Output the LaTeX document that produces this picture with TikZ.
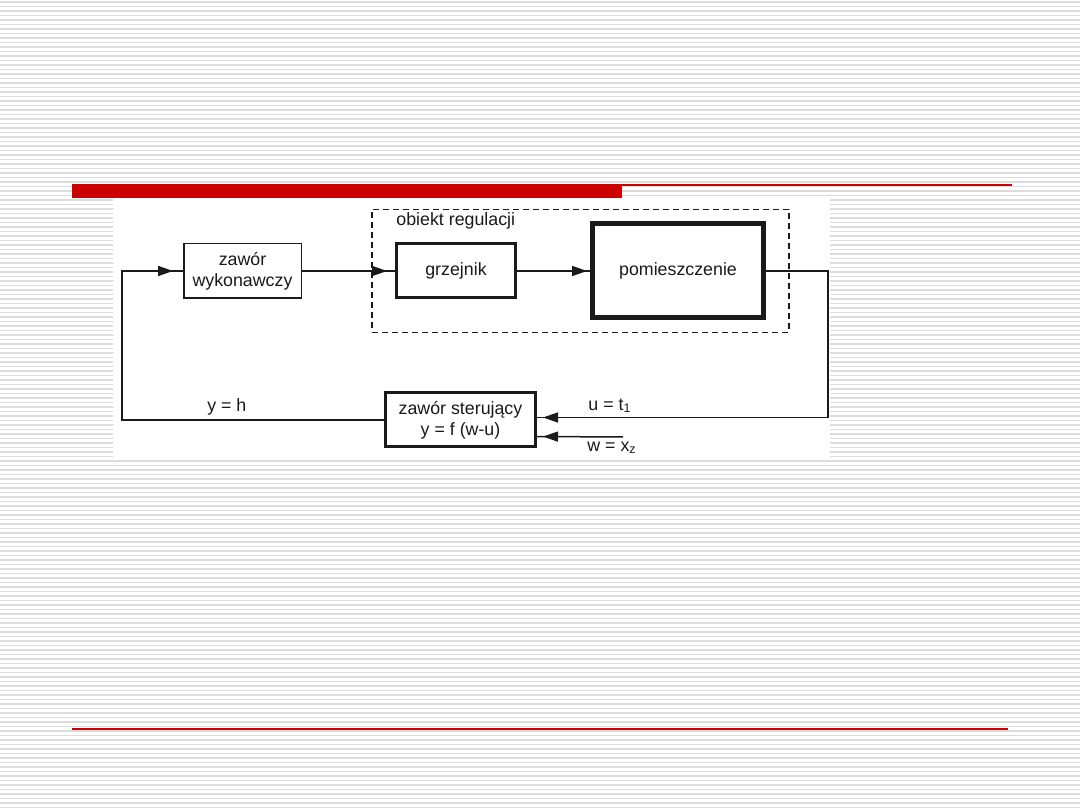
\documentclass[tikz,border=0pt]{standalone}
\usepackage{fontspec}
\setmainfont{Liberation Sans}
\usepackage{xcolor}
\definecolor{SlideRed}{HTML}{CC0000}
\definecolor{SlideStripe}{HTML}{DCDCDC}
\definecolor{PlotInk}{HTML}{1A1A1A}
\usetikzlibrary{positioning,arrows.meta,fit,decorations.markings}
\tikzset{
  sbox/.style={draw=PlotInk,fill=white,align=center,inner sep=2pt,text=PlotInk,font=\fontsize{17.8}{21}\selectfont},
  sthin/.style={sbox,line width=1.5pt},
  sthick/.style={sbox,line width=3pt},
  sheavy/.style={sbox,line width=5pt},
  sframe/.style={draw=PlotInk,line width=1.5pt,dash pattern=on 6pt off 4pt},
  slabel/.style={text=PlotInk,font=\fontsize{17.8}{21}\selectfont,inner sep=4pt},
  sline/.style={draw,color=PlotInk,line width=1.5pt},
  stip/.style={postaction={decorate,decoration={markings,mark=at position #1 with {\arrow{Triangle[length=15pt,width=10pt]}}}}}
}
\begin{document}
\begin{tikzpicture}[x=1pt,y=-1pt]
  \useasboundingbox (0,0) rectangle (1080,810);
  % slide background
  \fill[white] (0,0) rectangle (1080,810);
  \foreach \ypos in {2,6.5,...,810}
    \draw[SlideStripe,line width=1.1pt] (0,\ypos) -- (1080,\ypos);
  \fill[SlideRed] (72,184) rectangle (622,198);
  \fill[SlideRed] (72,184) rectangle (1012,186.5);
  \draw[SlideRed,line width=1.5pt] (72,729) -- (1008,729);
  \fill[white] (113,199) rectangle (830,457);
  % blocks
  \node[sthin,minimum width=117.5pt,minimum height=54.5pt] (zawor) at (242.5,271) {zawór\\wykonawczy};
  \node[sthick,minimum width=119pt,minimum height=54pt,right=93pt of zawor] (grzejnik) {grzejnik};
  \node[sheavy,minimum width=171pt,minimum height=94pt,right=73pt of grzejnik] (pomieszczenie) {pomieszczenie};
  \node[sthick,minimum width=150pt,minimum height=54pt,below=92pt of grzejnik,xshift=4.5pt] (sterujacy) {zawór sterujący\\y = f (w-u)};
  \node[sframe,fit=(grzejnik)(pomieszczenie),inner xsep=23pt,inner ysep=12pt] (obiekt) {};
  \node[slabel,anchor=base west,inner sep=0pt] (obiektlbl) at ([xshift=25pt,yshift=-17pt]obiekt.north west) {obiekt regulacji};
  % signal lines
  \coordinate (loopL) at (122,271);
  \coordinate (outR) at (828,271);
  \coordinate (wIn) at (623,437);
  \draw[sline,stip=-8pt] (zawor.east) -- (grzejnik.west);
  \draw[sline,stip=-3pt] (grzejnik.east) -- (pomieszczenie.west);
  \draw[sline,stip=-6pt] (pomieszczenie.east) -- (outR) |- node[pos=0.875,slabel,above]{u = t\textsubscript{1}} ([yshift=2.5pt]sterujacy.east);
  \draw[sline,stip=-6pt] (wIn) -- node[pos=0.13,slabel,below]{w = x\textsubscript{z}} ([yshift=-16.5pt]sterujacy.east);
  \draw[sline,stip=-10pt] (sterujacy.west) -| node[pos=0.3,slabel,above]{y = h} (loopL) -- (zawor.west);
\end{tikzpicture}
\end{document}
